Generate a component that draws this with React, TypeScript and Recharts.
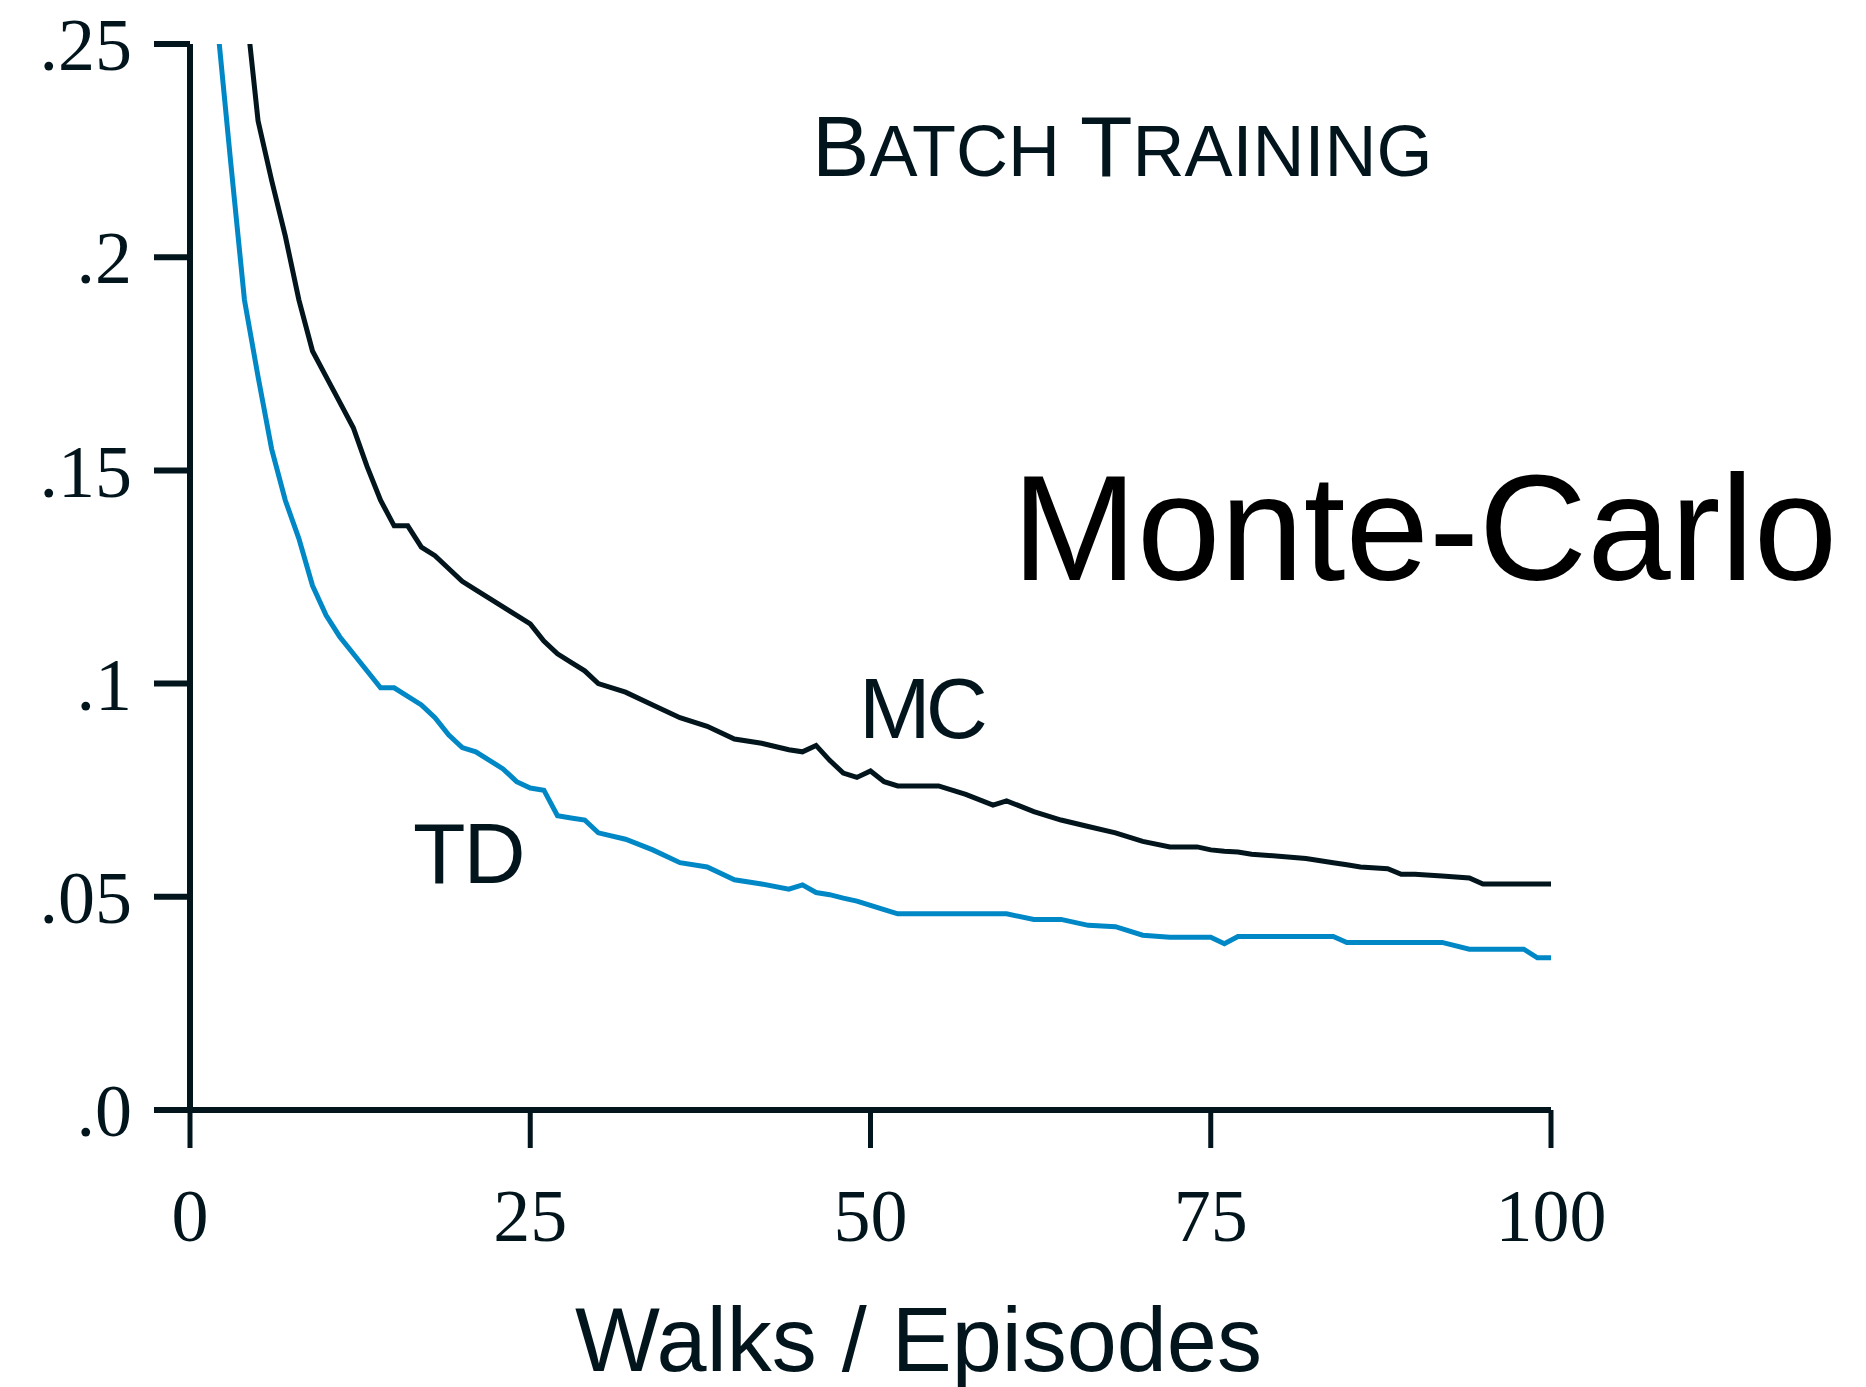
import React from 'react'
import { LineChart, Line, XAxis, YAxis } from 'recharts'

const episodes = [
  1, 2, 3, 4, 5, 6, 7, 8, 9, 10, 11, 12, 13, 14, 15, 16, 17, 18, 19, 20, 21, 22, 23, 24, 25, 26, 27, 28, 29, 30,
  32, 34, 36, 38, 40, 42, 44, 45, 46, 47, 48, 49, 50, 51, 52, 55, 57, 59, 60, 62, 64, 66, 68, 70, 72, 74, 75, 76,
  77, 78, 80, 82, 84, 85, 86, 88, 89, 90, 92, 94, 95, 96, 98, 99, 100,
]

const mcError = [
  0.4, 0.33, 0.29, 0.262, 0.232, 0.218, 0.205, 0.19, 0.178, 0.172, 0.166, 0.16, 0.151, 0.143, 0.137, 0.137, 0.132,
  0.13, 0.127, 0.124, 0.122, 0.12, 0.118, 0.116, 0.114, 0.11, 0.107, 0.105, 0.103, 0.1, 0.098, 0.095, 0.092, 0.09,
  0.087, 0.086, 0.0845, 0.084, 0.0855, 0.082, 0.079, 0.078, 0.0795, 0.077, 0.076, 0.076, 0.074, 0.0715, 0.0725, 0.07,
  0.068, 0.0665, 0.065, 0.063, 0.0617, 0.0617, 0.061, 0.0607, 0.0605, 0.06, 0.0595, 0.059, 0.058, 0.0575, 0.057,
  0.0566, 0.0553, 0.0553, 0.0549, 0.0544, 0.053, 0.053, 0.053, 0.053, 0.053,
]

const tdError = [
  0.33, 0.255, 0.222, 0.19, 0.172, 0.155, 0.143, 0.134, 0.123, 0.116, 0.111, 0.107, 0.103, 0.099, 0.099, 0.097, 0.095,
  0.092, 0.088, 0.085, 0.084, 0.082, 0.08, 0.077, 0.0755, 0.075, 0.069, 0.0685, 0.068, 0.065, 0.0635, 0.061, 0.058,
  0.057, 0.054, 0.053, 0.0518, 0.0528, 0.051, 0.0505, 0.0497, 0.049, 0.048, 0.047, 0.046, 0.046, 0.046, 0.046, 0.046,
  0.0447, 0.0447, 0.0433, 0.043, 0.041, 0.0405, 0.0405, 0.0405, 0.039, 0.0407, 0.0407, 0.0407, 0.0407, 0.0407, 0.0393,
  0.0393, 0.0393, 0.0393, 0.0393, 0.0393, 0.0377, 0.0377, 0.0377, 0.0377, 0.0357, 0.0357,
]

const xTicks = [0, 25, 50, 75, 100]
const yTicks = [0, 0.05, 0.1, 0.15, 0.2, 0.25]

const INK = '#03151c'
const BLUE = '#0088c6'

const data = episodes.map((ep, i) => ({ ep, mc: mcError[i], td: tdError[i] }))

const fmtY = (v: number) => (v === 0 ? '.0' : String(v).replace(/^0/, ''))

export default function App() {
  const sans = '"Liberation Sans", Arial, sans-serif'
  const serif = '"Liberation Serif", serif'
  return (
    <div style={{ position: 'absolute', left: 0, top: 0, width: 1866, height: 1387, background: '#fff' }}>
      <LineChart width={1866} height={1387} data={data} margin={{ top: 44, right: 315, bottom: 0, left: 0 }}>
        <XAxis
          dataKey="ep"
          type="number"
          domain={[0, 100]}
          ticks={xTicks}
          height={277}
          tickSize={38}
          tickMargin={40}
          axisLine={{ stroke: INK, strokeWidth: 6 }}
          tickLine={{ stroke: INK, strokeWidth: 5 }}
          tick={{ fill: INK, fontSize: 74, fontFamily: serif }}
        />
        <YAxis
          type="number"
          domain={[0, 0.25]}
          allowDataOverflow
          ticks={yTicks}
          tickFormatter={fmtY}
          width={190}
          tickSize={36}
          tickMargin={22}
          axisLine={{ stroke: INK, strokeWidth: 6 }}
          tickLine={{ stroke: INK, strokeWidth: 6 }}
          tick={{ fill: INK, fontSize: 74, fontFamily: serif }}
        />
        <Line dataKey="mc" stroke={INK} strokeWidth={5} dot={false} type="linear" isAnimationActive={false} />
        <Line dataKey="td" stroke={BLUE} strokeWidth={5} dot={false} type="linear" isAnimationActive={false} />
      </LineChart>
      <svg
        width={1866}
        height={1387}
        style={{ position: 'absolute', left: 0, top: 0, pointerEvents: 'none' }}
      >
        <text x={812} y={176} fill={INK} fontFamily={sans}>
          <tspan fontSize={86}>B</tspan>
          <tspan fontSize={72}>ATCH </tspan>
          <tspan fontSize={86}>T</tspan>
          <tspan fontSize={72}>RAINING</tspan>
        </text>
        <text x={1012} y={580} fill="#000" fontFamily={sans} fontSize={150}>
          Monte-Carlo
        </text>
        <text x={859} y={738} fill={INK} fontFamily={sans} fontSize={86} letterSpacing={-5}>
          MC
        </text>
        <text x={413} y={883} fill={INK} fontFamily={sans} fontSize={86} letterSpacing={-2}>
          TD
        </text>
        <text x={575} y={1371} fill={INK} fontFamily={sans} fontSize={90}>
          Walks / Episodes
        </text>
      </svg>
    </div>
  )
}
